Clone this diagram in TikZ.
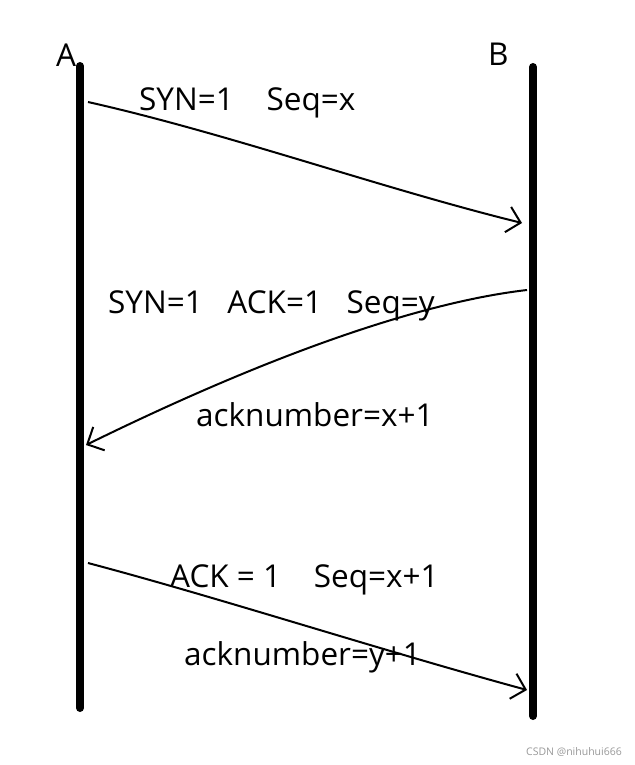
\documentclass[tikz,border=0pt]{standalone}
\usepackage{fontspec}
\setmainfont{Open Sans}
\usetikzlibrary{arrows.meta}

\tikzset{
  host/.style={line width=8pt, line cap=round},
  msg/.style={line width=2pt, -{Straight Barb[length=13pt,width=26pt,line width=2pt]}},
  lbl/.style={anchor=west, inner sep=0pt, font=\fontsize{31.5}{36}\selectfont},
}

\begin{document}
\begin{tikzpicture}[x=1pt,y=-1pt]
\useasboundingbox (0,0) rectangle (634,765);
\fill [white] (0,0) rectangle (634,765);
% the two hosts
\coordinate (Atop) at (80,66);
\coordinate (Abot) at (80,708);
\coordinate (Btop) at (533,67);
\coordinate (Bbot) at (533,716);
\draw [host] (Atop) -- (Abot);
\draw [host] (Btop) -- (Bbot);
\node [lbl] (nameA) at (56,55) {A};
\node [lbl] (nameB) at (488,54) {B};

% first message
\coordinate (s1) at (88,102);
\coordinate (e1) at (522,223);
\draw [msg] (s1) .. controls (230,134) and (380,188) .. (e1);
\node [lbl] (syn) at (139,103) {SYN=1\ \ \ \ Seq=x};

% second message
\coordinate (s2) at (527,290);
\coordinate (e2) at (86,445);
\draw [msg] (s2) .. controls (440,300) and (300,340) .. (e2);
\node [lbl] (synack) at (108,306) {SYN=1\ \ \ ACK=1\ \ \ Seq=y};
\node [lbl] (ackx) at (196,415) {acknumber=x+1};

% third message
\coordinate (s3) at (88,563);
\coordinate (e3) at (527,690);
\draw [msg] (s3) .. controls (220,598) and (380,650) .. (e3);
\node [lbl] (acky) at (170,580) {ACK = 1\ \ \ \ Seq=x+1};
\node [lbl] (ackn) at (184,657) {acknumber=y+1};

\node [anchor=east, inner sep=0pt, text=black!40, font=\fontsize{10.5}{12}\selectfont] (mark) at (622,752) {CSDN @nihuhui666};
\end{tikzpicture}
\end{document}
